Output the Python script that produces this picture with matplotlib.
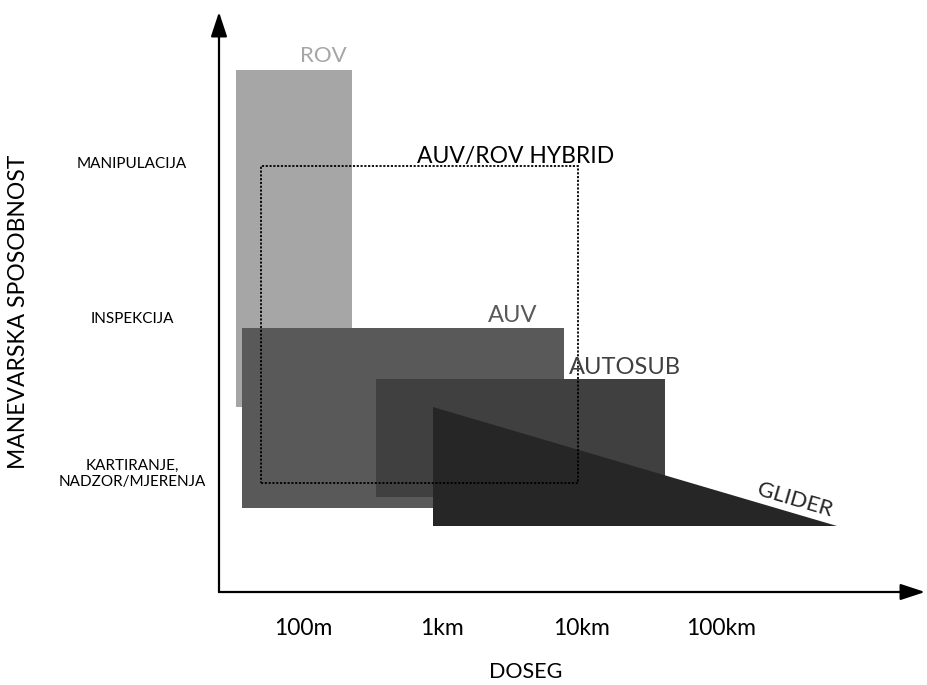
import matplotlib.pyplot as plt
from matplotlib.patches import Rectangle, Polygon

plt.rcParams['font.family'] = ['Lato', 'DejaVu Sans']

# doseg (m) i razina manevarske sposobnosti (1 = kartiranje, 2 = inspekcija, 3 = manipulacija)
names = ['ROV', 'AUV', 'AUTOSUB']
range_min = [33, 36.5, 334]
range_max = [224, 7430, 39300]
level_min = [1.43, 0.78, 0.85]
level_max = [3.61, 1.94, 1.61]
colors = ['#a6a6a6', '#595959', '#404040']

glider_x = [855, 855, 673000]
glider_y = [1.43, 0.665, 0.665]

hybrid_x = [50, 9360]
hybrid_y = [0.94, 2.99]

xticks = [100, 1000, 10000, 100000]
xticklabels = ['100m', '1km', '10km', '100km']
yticks = [1, 2, 3]
yticklabels = ['KARTIRANJE,\nNADZOR/MJERENJA', 'INSPEKCIJA', 'MANIPULACIJA']

fig = plt.figure(figsize=(9.27, 6.85), dpi=100)
ax = fig.add_axes([219 / 927, 93 / 685, 706 / 927, 580 / 685])
ax.set_xscale('log')
ax.set_xlim(25.0, 2.88e6)
ax.set_ylim(0.239, 3.981)

for i in range(len(names)):
    ax.add_patch(Rectangle((range_min[i], level_min[i]), range_max[i] - range_min[i],
                           level_max[i] - level_min[i], facecolor=colors[i], edgecolor='none'))

ax.add_patch(Polygon(list(zip(glider_x, glider_y)), closed=True, facecolor='#262626', edgecolor='none'))

ax.add_patch(Rectangle((hybrid_x[0], hybrid_y[0]), hybrid_x[1] - hybrid_x[0], hybrid_y[1] - hybrid_y[0],
                       fill=False, edgecolor='black', lw=1.3, linestyle=(0, (1.2, 0.9))))

ax.text(139, 3.70, 'ROV', color='#a6a6a6', fontsize=16, ha='center', va='center')
ax.text(3360, 3.05, 'AUV/ROV HYBRID', color='black', fontsize=16.5, ha='center', va='center')
ax.text(3200, 2.02, 'AUV', color='#595959', fontsize=17, ha='center', va='center')
ax.text(20300, 1.69, 'AUTOSUB', color='#404040', fontsize=17, ha='center', va='center')
ax.text(336600, 0.832, 'GLIDER', color='#262626', fontsize=16, ha='center', va='center', rotation=-16.3)

for s in ax.spines.values():
    s.set_visible(False)

ax.set_xticks(xticks)
ax.set_xticklabels(xticklabels)
ax.minorticks_off()
ax.set_yticks(yticks)
ax.set_yticklabels(yticklabels, ha='center', fontsize=11, multialignment='center')
ax.tick_params(axis='x', length=0, pad=26, labelsize=16.5)
ax.tick_params(axis='y', length=0, pad=62.6)
for lab in ax.get_xticklabels():
    lab.set_va('center')
for lab in ax.get_yticklabels():
    lab.set_va('center')

ax.set_xlabel('DOSEG', fontsize=15.5, va='center')
ax.xaxis.set_label_coords((526 - 219) / 706, (592 - 672) / 580)
ax.set_ylabel('MANEVARSKA SPOSOBNOST', fontsize=16.5, va='center')
ax.yaxis.set_label_coords((18 - 219) / 706, (592 - 312) / 580)

arrow = dict(arrowstyle='-|>,head_length=1.0,head_width=0.33', lw=1.6, color='black',
             mutation_scale=15, shrinkA=0, shrinkB=0)
ax.annotate('', xy=(1, 0), xytext=(0, 0), xycoords='axes fraction', arrowprops=arrow, annotation_clip=False)
ax.annotate('', xy=(0, 1), xytext=(0, 0), xycoords='axes fraction', arrowprops=arrow, annotation_clip=False)

fig.savefig('out.png', dpi=100)
